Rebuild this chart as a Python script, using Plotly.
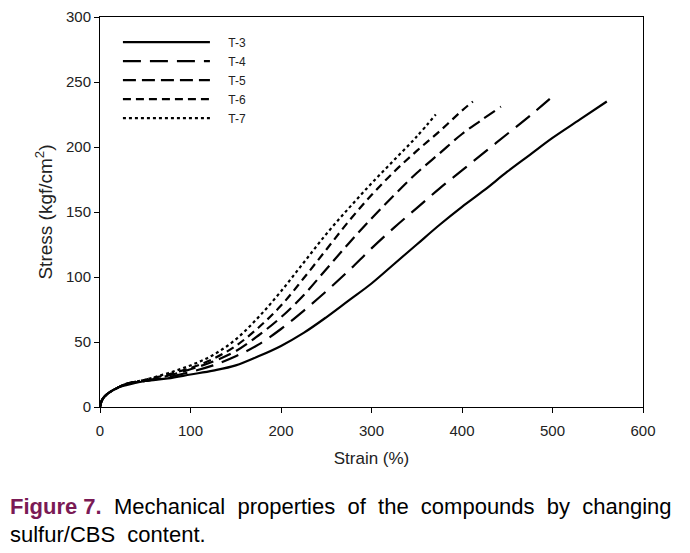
import plotly.graph_objects as go

# Data
t3_x = [0, 2, 5, 10, 20, 30, 50, 75, 100, 125, 150, 175, 200, 225, 250, 275, 300, 325, 350, 375, 400, 425, 450, 475, 500, 530, 560]
t3_y = [0, 5, 8, 11, 15, 17, 20, 22, 25, 28, 32, 39, 47, 57, 69, 82, 95, 110, 125, 140, 154, 167, 181, 194, 207, 221, 235]

t4_x = [0, 2, 5, 10, 20, 30, 50, 75, 100, 125, 150, 175, 200, 225, 250, 275, 300, 325, 350, 375, 400, 425, 450, 475, 497]
t4_y = [0, 5, 8, 11, 15, 18, 20, 23, 27, 32, 39, 48, 60, 74, 89, 105, 122, 138, 153, 168, 182, 196, 210, 224, 237]

t5_x = [0, 2, 5, 10, 20, 30, 50, 75, 100, 125, 150, 175, 200, 225, 250, 275, 300, 325, 350, 375, 400, 420, 443]
t5_y = [0, 5, 8, 11, 15, 18, 20, 24, 29, 35, 43, 55, 69, 86, 106, 126, 145, 163, 180, 195, 210, 220, 231]

t6_x = [0, 2, 5, 10, 20, 30, 50, 75, 100, 125, 150, 175, 200, 225, 250, 275, 300, 325, 350, 375, 400, 412]
t6_y = [0, 5, 8, 11, 15, 18, 21, 25, 30, 37, 47, 61, 78, 99, 121, 143, 163, 181, 197, 212, 228, 235]

t7_x = [0, 2, 5, 10, 20, 30, 50, 75, 100, 125, 150, 175, 200, 225, 250, 275, 300, 325, 350, 371]
t7_y = [0, 5, 8, 11, 15, 18, 21, 26, 32, 40, 52, 69, 89, 111, 133, 153, 172, 190, 208, 225]

names = ["T-3", "T-4", "T-5", "T-6", "T-7"]
dashes = ["solid", "18px,9px", "13px,6px", "8px,5px", "3px,3px"]
xs = [t3_x, t4_x, t5_x, t6_x, t7_x]
ys = [t3_y, t4_y, t5_y, t6_y, t7_y]

NB = "\u00a0"

fig = go.Figure()
for n, d, x, y in zip(names, dashes, xs, ys):
    fig.add_trace(go.Scatter(
        x=x, y=y, mode="lines", name=NB * 4 + n,
        line=dict(color="black", width=2.2, dash=d, shape="spline", smoothing=1.0),
    ))

FONT = "Liberation Sans, Arial, sans-serif"
axis_font = dict(family=FONT, size=15, color="#222222")

fig.update_layout(
    width=682, height=545,
    margin=dict(l=92, r=47, t=9, b=146, autoexpand=False),
    paper_bgcolor="white", plot_bgcolor="white",
    font=dict(family=FONT, color="black"),
    showlegend=True,
    legend=dict(
        x=0.033, y=0.973, xanchor="left", yanchor="top",
        bgcolor="rgba(0,0,0,0)", font=dict(size=12, color="#222222"),
        itemwidth=87, tracegroupgap=0,
    ),
    xaxis=dict(
        range=[0, 600], tickmode="linear", tick0=0, dtick=100,
        showgrid=False, zeroline=False,
        showline=True, linecolor="black", linewidth=1, mirror=True,
        ticks="outside", ticklen=5, tickcolor="black", tickfont=axis_font,
        ticklabelstandoff=5,
        title=dict(text="Strain (%)", font=dict(size=17, color="#222222"), standoff=14),
    ),
    yaxis=dict(
        range=[0, 300], tickmode="linear", tick0=0, dtick=50,
        showgrid=False, zeroline=False,
        showline=True, linecolor="black", linewidth=1, mirror=True,
        ticks="outside", ticklen=5, tickcolor="black", tickfont=axis_font,
        title=dict(text="Stress (kgf/cm<sup>2</sup>)", font=dict(size=19, color="#222222"), standoff=8),
    ),
)

line1_words = ["Mechanical", "properties", "of", "the", "compounds", "by", "changing"]
line1 = "<b><span style='color:#7a1a55'>Figure" + NB + "7.</span></b>" + NB + " " + (NB + " ").join(line1_words)

fig.add_annotation(
    xref="paper", yref="paper", x=-0.1694, y=-0.254, xanchor="left", yanchor="middle",
    showarrow=False, align="left",
    text=line1,
    font=dict(size=22, color="black", family=FONT),
)
fig.add_annotation(
    xref="paper", yref="paper", x=-0.1694, y=-0.326, xanchor="left", yanchor="middle",
    showarrow=False, align="left",
    text="sulfur/CBS" + NB + " content.",
    font=dict(size=22, color="black", family=FONT),
)

fig.write_html("out.html")
